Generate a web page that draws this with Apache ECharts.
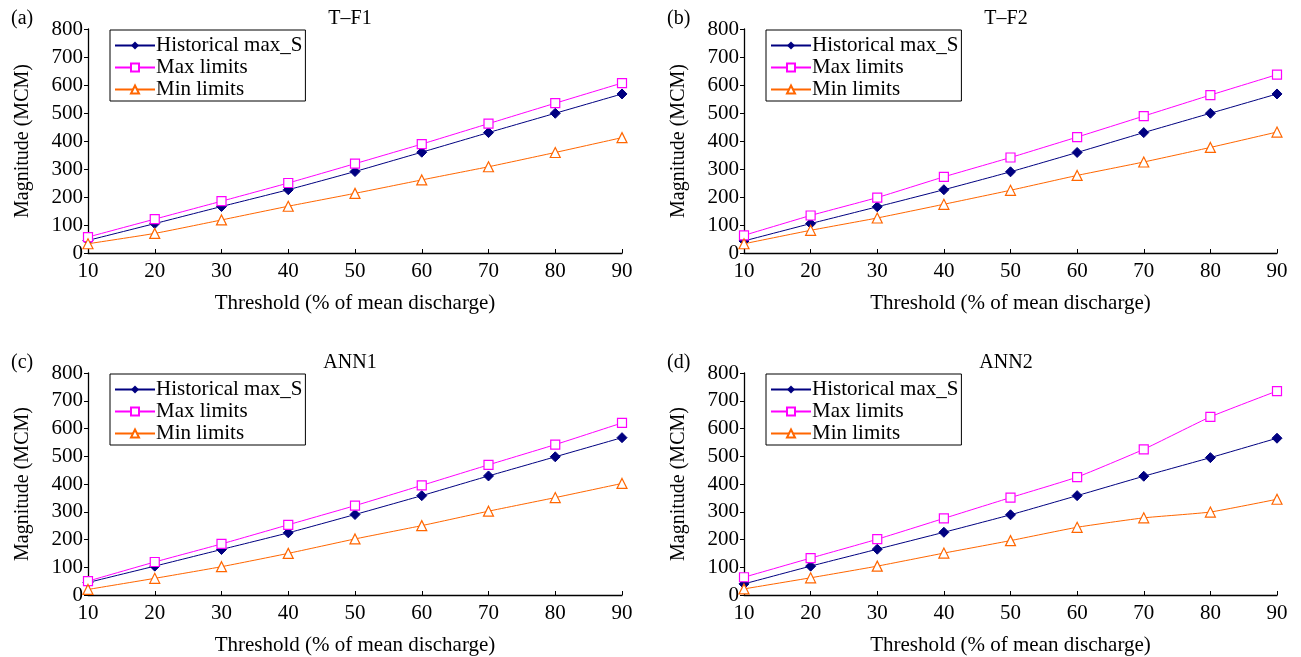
<!DOCTYPE html>
<html>
<head>
<meta charset="utf-8">
<script src="https://cdn.jsdelivr.net/npm/echarts@6/dist/echarts.min.js"></script>
<style>
  html, body { margin: 0; padding: 0; background: #fff; }
  #chart { width: 1301px; height: 657px; }
</style>
</head>
<body>
<div id="chart"></div>
<script>
// Threshold levels (% of mean discharge)
const thresholds = [10, 20, 30, 40, 50, 60, 70, 80, 90];

// Historical maximum storage (MCM)
const histTF1  = [45, 105, 166, 226, 291, 360, 430, 499, 568];
const histTF2  = [43, 105, 165, 226, 290, 359, 430, 499, 568];
const histANN1 = [45, 104, 164, 224, 290, 358, 429, 498, 567];
const histANN2 = [40, 104, 165, 226, 289, 358, 428, 495, 565];

// Upper limits (MCM)
const maxTF1  = [57, 121, 185, 250, 319, 389, 462, 535, 607];
const maxTF2  = [63, 134, 198, 272, 341, 414, 489, 564, 637];
const maxANN1 = [50, 119, 184, 253, 322, 395, 469, 542, 620];
const maxANN2 = [64, 133, 201, 276, 351, 425, 525, 642, 735];

// Lower limits (MCM)
const minTF1  = [33, 70, 118, 167, 213, 261, 308, 359, 412];
const minTF2  = [33, 81, 125, 174, 224, 277, 325, 377, 432];
const minANN1 = [20, 60, 102, 150, 202, 250, 302, 351, 402];
const minANN2 = [22, 62, 104, 151, 196, 244, 278, 299, 345];

const panelTitles = ['T\u2013F1', 'T\u2013F2', 'ANN1', 'ANN2'];
const panelTags = ['(a)', '(b)', '(c)', '(d)'];
const seriesNames = ['Historical max_S', 'Max limits', 'Min limits'];

const FONT = '"Liberation Serif", "Times New Roman", serif';

const panels = [
  { hist: histTF1,  max: maxTF1,  min: minTF1  },
  { hist: histTF2,  max: maxTF2,  min: minTF2  },
  { hist: histANN1, max: maxANN1, min: minANN1 },
  { hist: histANN2, max: maxANN2, min: minANN2 }
];

// grid boxes: [left, top, width, height]
const boxes = [
  [88, 29, 534, 224],
  [744, 29, 533, 224],
  [88, 373, 534, 224],
  [744, 373, 533, 224]
];

const pair = arr => arr.map((v, i) => [thresholds[i], v]);

const grid = [], xAxis = [], yAxis = [], series = [], legend = [], title = [];

boxes.forEach((b, k) => {
  grid.push({ left: b[0], top: b[1], width: b[2], height: b[3] });
  xAxis.push({
    type: 'value', gridIndex: k, min: 10, max: 90, interval: 10,
    name: 'Threshold (% of mean discharge)', nameLocation: 'middle', nameGap: 40,
    nameTextStyle: { fontFamily: FONT, fontSize: 21, color: '#000' },
    axisLine: { show: true, lineStyle: { color: '#000', width: 1.3 } },
    axisTick: { show: true, inside: true, length: 4, lineStyle: { color: '#000' } },
    axisLabel: { fontFamily: FONT, fontSize: 21, color: '#000', margin: 8 },
    splitLine: { show: false }
  });
  yAxis.push({
    type: 'value', gridIndex: k, min: 0, max: 800, interval: 100,
    name: 'Magnitude (MCM)', nameLocation: 'middle', nameGap: 55,
    nameTextStyle: { fontFamily: FONT, fontSize: 20, color: '#000' },
    axisLine: { show: true, lineStyle: { color: '#000', width: 1.3 } },
    axisTick: { show: true, length: 4, lineStyle: { color: '#000' } },
    axisLabel: { fontFamily: FONT, fontSize: 21, color: '#000', margin: 5 },
    splitLine: { show: false }
  });
  const p = panels[k];
  const common = { type: 'line', xAxisIndex: k, yAxisIndex: k, smooth: 0.15, showAllSymbol: true };
  series.push(Object.assign({}, common, {
    name: seriesNames[0], data: pair(p.hist),
    symbol: 'diamond', symbolSize: 10,
    lineStyle: { color: '#000080', width: 1 },
    itemStyle: { color: '#000080', borderColor: '#000080' }
  }));
  series.push(Object.assign({}, common, {
    name: seriesNames[1], data: pair(p.max),
    symbol: 'rect', symbolSize: 9,
    lineStyle: { color: '#FF00FF', width: 1 },
    itemStyle: { color: '#fff', borderColor: '#FF00FF', borderWidth: 1.2 }
  }));
  series.push(Object.assign({}, common, {
    name: seriesNames[2], data: pair(p.min),
    symbol: 'triangle', symbolSize: 10,
    lineStyle: { color: '#FF6600', width: 1 },
    itemStyle: { color: '#fff', borderColor: '#FF6600', borderWidth: 1.2 }
  }));
  legend.push({
    data: seriesNames, orient: 'vertical',
    left: b[0] + 22, top: b[1] + 1,
    backgroundColor: '#fff', borderColor: '#000', borderWidth: 1,
    padding: [5, 3, 1, 4], itemGap: 1, itemWidth: 40, itemHeight: 10,
    textStyle: { fontFamily: FONT, fontSize: 21, color: '#000', padding: [0, 0, 0, -4] }
  });
  title.push({
    text: panelTags[k], left: b[0] - 82, top: b[1] - 25,
    textStyle: { fontFamily: FONT, fontSize: 20, fontWeight: 'normal', color: '#000' }
  });
  title.push({
    text: panelTitles[k], left: b[0] + 257, top: b[1] - 25, textAlign: 'center',
    textStyle: { fontFamily: FONT, fontSize: 20, fontWeight: 'normal', color: '#000' }
  });
});

const chart = echarts.init(document.getElementById('chart'), null, { renderer: 'canvas' });
chart.setOption({
  animation: false,
  backgroundColor: '#fff',
  title, legend, grid, xAxis, yAxis, series
});
</script>
</body>
</html>
